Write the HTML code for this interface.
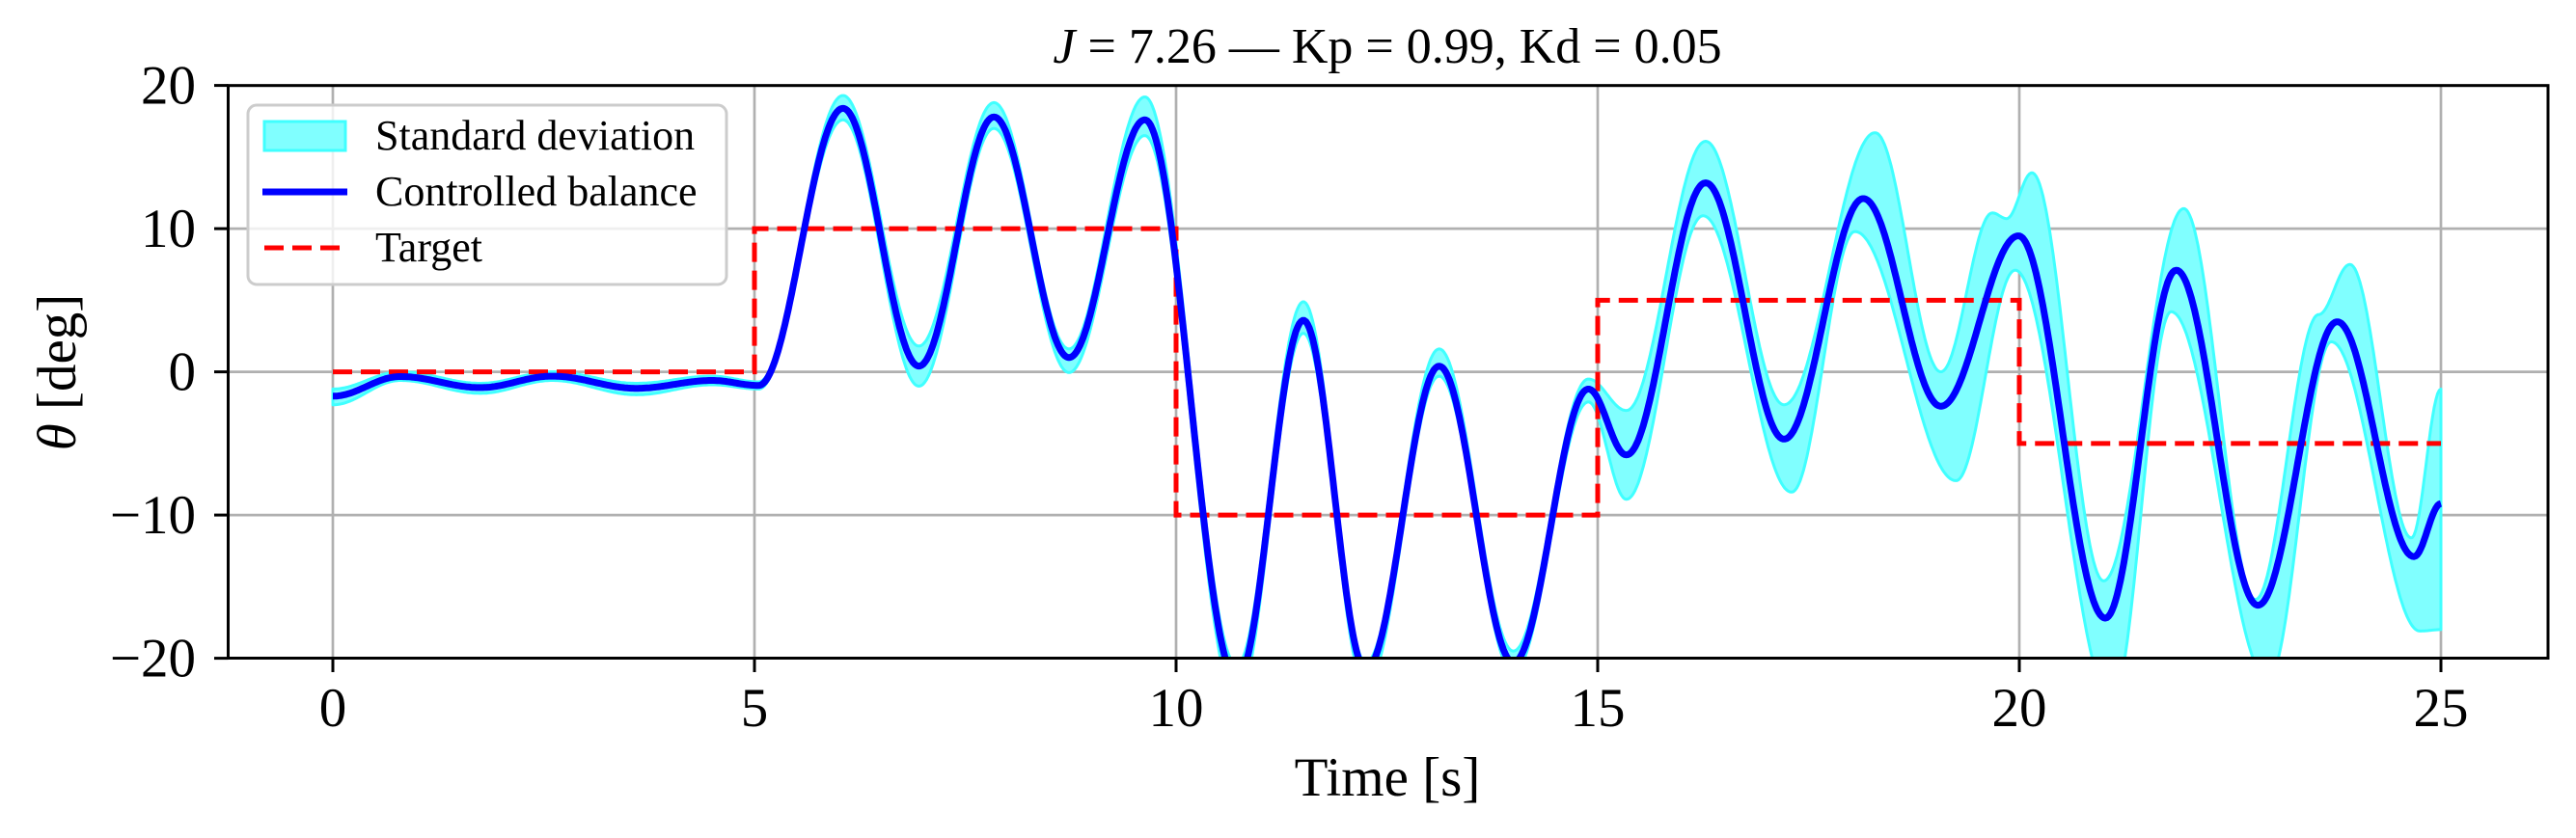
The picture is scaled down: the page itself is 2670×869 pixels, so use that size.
<!DOCTYPE html>
<html><head><meta charset="utf-8"><style>
html,body{margin:0;padding:0;background:#fff;}
svg{display:block;}
text{font-family:"Liberation Serif","DejaVu Serif",serif;fill:#000;}
</style></head><body>
<svg id="chart" width="2670" height="869" viewBox="0 0 2670 869" xmlns="http://www.w3.org/2000/svg">
<defs><clipPath id="clip"><rect x="236.5" y="88.7" width="2404.5" height="593.8"/></clipPath></defs>
<rect width="2670" height="869" fill="#fff"/>
<g id="grid"></g>
<g id="plot" clip-path="url(#clip)"></g>
<rect x="236.5" y="88.7" width="2404.5" height="593.8" fill="none" stroke="#000" stroke-width="3"/>
<g id="ticks"></g>
<text x="1438" y="65" font-size="52" text-anchor="middle"><tspan font-style="italic">J</tspan> = 7.26 — Kp = 0.99, Kd = 0.05</text>
<text x="1438" y="825" font-size="57" text-anchor="middle">Time [s]</text>
<text transform="translate(78,386) rotate(-90)" font-size="57" text-anchor="middle"><tspan font-style="italic">θ</tspan> [deg]</text>
<g id="legend">
  <rect x="257" y="109" width="496" height="186" rx="9" fill="#fff" fill-opacity="0.8" stroke="#cccccc" stroke-width="3"/>
  <rect x="274" y="126" width="84" height="30" fill="#80ffff" stroke="#40ffff" stroke-width="3"/>
  <text x="389" y="155" font-size="44">Standard deviation</text>
  <line x1="272" y1="199" x2="360" y2="199" stroke="#0000ff" stroke-width="7"/>
  <text x="389" y="213" font-size="44">Controlled balance</text>
  <line x1="274" y1="257" x2="358" y2="257" stroke="#ff0000" stroke-width="5" stroke-dasharray="20,9"/>
  <text x="389" y="271" font-size="44">Target</text>
</g>
</svg>
<script>
const meanT=[0,0.8,1.75,2.6,3.6,4.5,5.05,6.05,6.95,7.84,8.73,9.63,10.72,11.51,12.25,13.12,14.0,14.89,15.34,16.28,17.21,18.15,19.07,19.99,21.02,21.86,22.83,23.77,24.68,25];
const meanV=[-1.7,-0.33,-1.1,-0.3,-1.15,-0.6,-0.95,18.4,0.4,17.8,1.0,17.6,-21.5,3.6,-20.8,0.4,-20.3,-1.2,-5.8,13.2,-4.7,12.1,-2.4,9.5,-17.2,7.1,-16.3,3.5,-12.9,-9.2];
const upperT=[0,0.8,1.75,2.6,3.6,4.5,5.05,6.05,6.95,7.84,8.73,9.63,10.72,11.51,12.25,13.12,14.0,14.89,15.34,16.28,17.21,18.29,19.07,19.68,19.85,20.15,21.0,21.95,22.8,23.55,23.92,24.65,25];
const upperV=[-1.2,0,-0.8,0,-0.8,-0.3,-0.7,19.3,1.8,18.8,1.6,19.2,-20.5,4.9,-20.3,1.6,-19.5,-0.5,-2.7,16.1,-2.3,16.7,0,11.1,10.7,13.9,-14.6,11.4,-15.9,4.0,7.5,-11.6,-1.2];
const lowerT=[0,0.8,1.75,2.6,3.6,4.5,5.05,6.05,6.95,7.84,8.73,9.63,10.72,11.51,12.25,13.12,14.0,14.89,15.34,16.25,17.3,18.05,19.25,19.95,21.1,21.8,22.95,23.7,24.75,25];
const lowerV=[-2.3,-0.6,-1.5,-0.6,-1.6,-0.9,-1.2,17.6,-1.0,17.0,-0.05,16.5,-23,2.7,-22,-0.3,-21,-2.1,-8.9,10.9,-8.4,9.8,-7.6,7.1,-23,4.2,-21.5,2.1,-18.1,-18];
const targetT=[0,5,5,10,10,15,15,20,20,25];
const targetV=[0,0,10,10,-10,-10,5,5,-5,-5];
const xTicks=[0,5,10,15,20,25];
const yTicks=[-20,-10,0,10,20];
const yTickLabels=["−20","−10","0","10","20"];

const NS="http://www.w3.org/2000/svg";
const X0=345, XU=87.4, Y0=385.6, YU=14.85;
function sx(t){return X0+t*XU;}
function sy(v){return Y0-v*YU;}
function interp(T,V,t){
  for(let i=0;i<T.length-1;i++){
    if(t>=T[i]&&t<=T[i+1]){const u=(t-T[i])/(T[i+1]-T[i]);return V[i]+(V[i+1]-V[i])*(1-Math.cos(Math.PI*u))/2;}
  }
  return V[V.length-1];
}
function mk(tag,attrs,parent){const e=document.createElementNS(NS,tag);for(const k in attrs)e.setAttribute(k,attrs[k]);parent.appendChild(e);return e;}
const grid=document.getElementById('grid'),plot=document.getElementById('plot'),ticks=document.getElementById('ticks');
xTicks.forEach(t=>{
  const g=mk('line',{x1:sx(t),x2:sx(t),y1:88.7,y2:682.5,stroke:'#b0b0b0','stroke-width':2.7},grid);
  
  
  const tk=mk('line',{x1:sx(t),x2:sx(t),y1:682.5,y2:697,stroke:'#000','stroke-width':3},ticks);
  
  
  const lb=mk('text',{x:sx(t),y:753,'font-size':57,'text-anchor':'middle'},ticks);
  lb.textContent=String(t);
  
  
});
yTicks.forEach((v,i)=>{
  const g=mk('line',{x1:236.5,x2:2641,y1:sy(v),y2:sy(v),stroke:'#b0b0b0','stroke-width':2.7},grid);
  
  
  const tk=mk('line',{x1:222,x2:236.5,y1:sy(v),y2:sy(v),stroke:'#000','stroke-width':3},ticks);
  
  
  const lb=mk('text',{x:203,y:sy(v)+19,'font-size':57,'text-anchor':'end'},ticks);
  lb.textContent=yTickLabels[i];
  
  
});
const N=1250;
let up=[],lo=[],mn=[];
for(let k=0;k<=N;k++){const t=25*k/N;
  up.push(sx(t).toFixed(1)+','+sy(interp(upperT,upperV,t)).toFixed(1));
  lo.push(sx(t).toFixed(1)+','+sy(interp(lowerT,lowerV,t)).toFixed(1));
  mn.push(sx(t).toFixed(1)+','+sy(interp(meanT,meanV,t)).toFixed(1));
}
const band=mk('polygon',{points:up.concat(lo.slice().reverse()).join(' '),fill:'#80ffff',stroke:'#40ffff','stroke-width':3,'stroke-linejoin':'round'},plot);


const tp=targetT.map((t,i)=>sx(t)+','+sy(targetV[i])).join(' ');
const tl=mk('polyline',{points:tp,fill:'none',stroke:'#ff0000','stroke-width':5,'stroke-dasharray':'20,9'},plot);


const ml=mk('polyline',{points:mn.join(' '),fill:'none',stroke:'#0000ff','stroke-width':7,'stroke-linejoin':'round','stroke-linecap':'butt'},plot);


</script>
</body></html>
